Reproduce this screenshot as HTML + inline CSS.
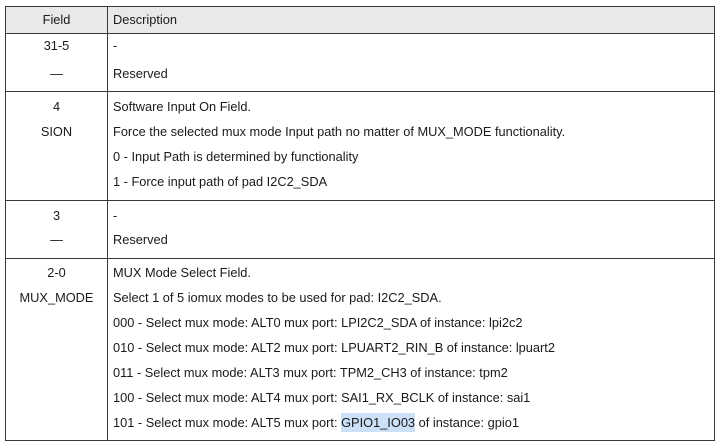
<!DOCTYPE html>
<html><head><style>
body{margin:0;width:722px;height:447px;background:#fff;position:relative;overflow:hidden;font-family:"Liberation Sans",Arial,sans-serif;font-size:12.8px;color:#1a1a1a}
.l{position:absolute;background:#3a3a3a}
.t{position:absolute;line-height:16px;white-space:nowrap}
.c{position:absolute;left:6px;width:101px;text-align:center;line-height:16px}
.h{background:#cce0f8;padding:2px 0}
</style></head><body>
<div style="position:absolute;left:6px;top:7px;width:708px;height:26px;background:#e9e9e9"></div>
<div class="l" style="left:5px;top:6px;width:710px;height:1px"></div>
<div class="l" style="left:5px;top:33px;width:710px;height:1px"></div>
<div class="l" style="left:5px;top:91px;width:710px;height:1px"></div>
<div class="l" style="left:5px;top:200px;width:710px;height:1px"></div>
<div class="l" style="left:5px;top:258px;width:710px;height:1px"></div>
<div class="l" style="left:5px;top:440px;width:710px;height:1px"></div>
<div class="l" style="left:5px;top:6px;width:1px;height:435px"></div>
<div class="l" style="left:107px;top:6px;width:1px;height:435px"></div>
<div class="l" style="left:714px;top:6px;width:1px;height:435px"></div>

<div class="c" style="top:12px">Field</div>
<div class="t" style="left:113px;top:12px">Description</div>

<div class="c" style="top:38px">31-5</div>
<div class="c" style="top:66px">—</div>
<div class="t" style="left:113px;top:38px">-</div>
<div class="t" style="left:113px;top:66px">Reserved</div>

<div class="c" style="top:99px">4</div>
<div class="c" style="top:124px">SION</div>
<div class="t" style="left:113px;top:99px">Software Input On Field.</div>
<div class="t" style="left:113px;top:124px">Force the selected mux mode Input path no matter of MUX_MODE functionality.</div>
<div class="t" style="left:113px;top:149px">0 - Input Path is determined by functionality</div>
<div class="t" style="left:113px;top:174px">1 - Force input path of pad I2C2_SDA</div>

<div class="c" style="top:208px">3</div>
<div class="c" style="top:232px">—</div>
<div class="t" style="left:113px;top:208px">-</div>
<div class="t" style="left:113px;top:232px">Reserved</div>

<div class="c" style="top:265px">2-0</div>
<div class="c" style="top:290px">MUX_MODE</div>
<div class="t" style="left:113px;top:265px">MUX Mode Select Field.</div>
<div class="t" style="left:113px;top:290px">Select 1 of 5 iomux modes to be used for pad: I2C2_SDA.</div>
<div class="t" style="left:113px;top:315px">000 - Select mux mode: ALT0 mux port: LPI2C2_SDA of instance: lpi2c2</div>
<div class="t" style="left:113px;top:340px">010 - Select mux mode: ALT2 mux port: LPUART2_RIN_B of instance: lpuart2</div>
<div class="t" style="left:113px;top:365px">011 - Select mux mode: ALT3 mux port: TPM2_CH3 of instance: tpm2</div>
<div class="t" style="left:113px;top:390px">100 - Select mux mode: ALT4 mux port: SAI1_RX_BCLK of instance: sai1</div>
<div class="t" style="left:113px;top:415px">101 - Select mux mode: ALT5 mux port: <span class="h">GPIO1_IO03</span> of instance: gpio1</div>
</body></html>
